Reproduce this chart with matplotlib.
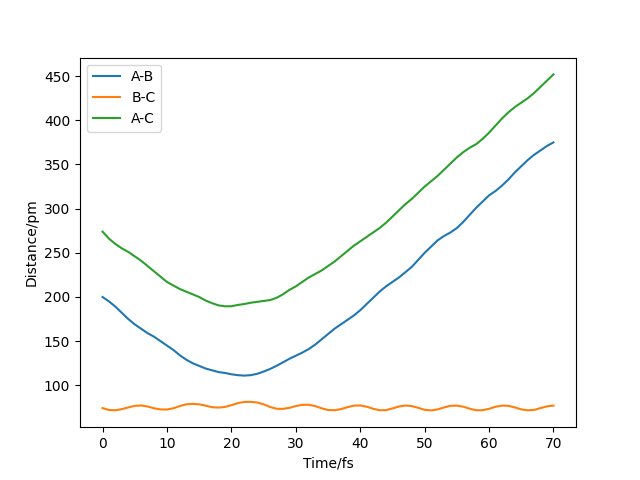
import matplotlib
matplotlib.use("Agg")
import matplotlib.pyplot as plt

time_fs = list(range(0, 71))

ab = [200, 195, 189, 182, 175, 169, 164, 159, 155, 150,
      145, 140, 134, 129, 125, 122, 119, 117, 115, 114,
      112.5, 111.5, 111, 111.5, 113, 115.5, 118.5, 122, 126, 130,
      133.5, 137, 141, 146, 152, 158, 164, 169, 174, 179,
      185, 192, 199, 206, 212, 217, 222, 228, 234, 242,
      250, 257, 264, 269, 273, 278, 285, 293, 301, 308,
      315, 320, 326, 333, 341, 348, 355, 361, 366, 371, 375]

bc = [74.3, 72, 71.8, 73, 75, 76.7, 77.2, 76, 74, 72.7,
      72.6, 74, 76.5, 78.5, 79, 78.5, 77, 75.2, 74.8, 75.5,
      77.5, 79.8, 81.2, 81.3, 80.5, 78.5, 75.5, 73.5, 73.3, 74.5,
      76.5, 77.9, 78, 76.5, 74, 72, 71.8, 73, 75.2, 77,
      77.2, 75.8, 73.5, 71.8, 71.9, 73.8, 76, 77.1, 76.5, 74.5,
      72.3, 71.6, 72.7, 74.9, 76.8, 77, 75.8, 73.5, 71.8, 71.8,
      73.4, 75.7, 77, 76.8, 75, 72.8, 71.7, 72.2, 74.2, 76.2, 77]

ac = [274, 266, 260, 255, 251, 246, 241, 235, 229, 223,
      217, 213, 209, 206, 203, 200, 196, 193, 190.5, 189.5,
      189.5, 191, 192, 193.5, 194.5, 195.5, 196.5, 199, 203, 208,
      212, 217, 222, 226, 230, 235, 240, 246, 252, 258,
      263, 268, 273, 278, 284, 291, 298, 305, 311, 318,
      325, 331, 337, 344, 351, 358, 364, 369, 373, 379,
      386, 394, 402, 409, 415, 420, 425, 431, 438, 445, 452]

labels = ["A-B", "B-C", "A-C"]

fig, ax = plt.subplots(figsize=(6.4, 4.8), dpi=100)
ax.plot(time_fs, ab, label=labels[0])
ax.plot(time_fs, bc, label=labels[1])
ax.plot(time_fs, ac, label=labels[2])
ax.set_xlabel("Time/fs")
ax.set_ylabel("Distance/pm")
ax.legend(loc="upper left")
fig.savefig("out.png", dpi=100)
